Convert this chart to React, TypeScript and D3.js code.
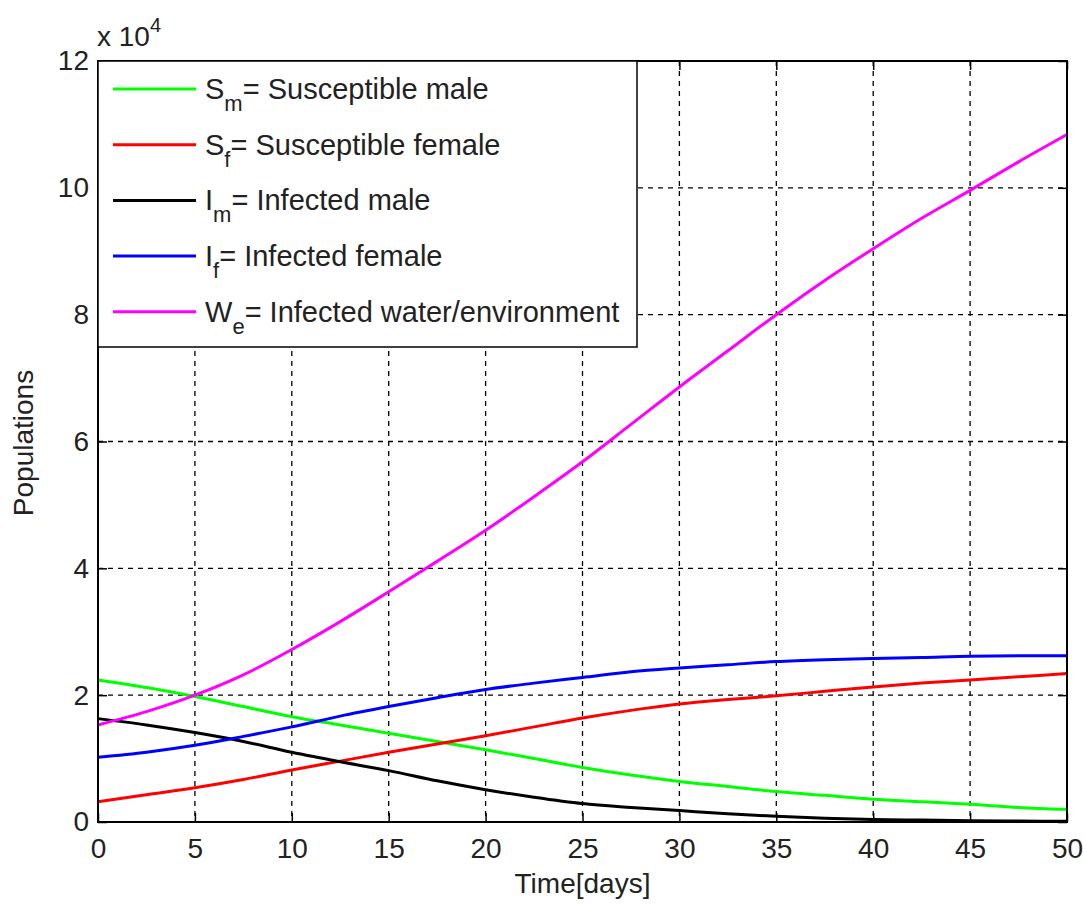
import React, { useEffect, useRef } from "react";
import * as d3 from "d3";

// days sampled every 2.5
const days = [0, 2.5, 5, 7.5, 10, 12.5, 15, 17.5, 20, 22.5, 25, 27.5, 30, 32.5, 35, 37.5, 40, 42.5, 45, 47.5, 50];

const susMale = [22400, 21200, 19800, 18200, 16600, 15300, 14000, 12700, 11400, 10000, 8600, 7400, 6400, 5600, 4800, 4200, 3600, 3200, 2800, 2300, 2000];
const susFemale = [3200, 4300, 5400, 6700, 8200, 9600, 11000, 12300, 13600, 15000, 16400, 17600, 18600, 19300, 19900, 20600, 21300, 21900, 22400, 22900, 23400];
const infMale = [16300, 15300, 14100, 12700, 11000, 9500, 8100, 6500, 5100, 3900, 2900, 2300, 1800, 1300, 900, 600, 400, 300, 200, 150, 100];
const infFemale = [10200, 11000, 12100, 13500, 15000, 16700, 18200, 19600, 20900, 21900, 22800, 23700, 24300, 24800, 25300, 25600, 25800, 25950, 26150, 26200, 26200];
const water = [15300, 17400, 20000, 23200, 27200, 31600, 36300, 41100, 46000, 51300, 56800, 62700, 68600, 74300, 80000, 85400, 90400, 95200, 99600, 104100, 108400];

const xTicks = [0, 5, 10, 15, 20, 25, 30, 35, 40, 45, 50];
const yTicks = [0, 2, 4, 6, 8, 10, 12];

const series = [
  { base: "S", sub: "m", label: "= Susceptible male", color: "#00ff00", values: susMale },
  { base: "S", sub: "f", label: "= Susceptible female", color: "#ff0000", values: susFemale },
  { base: "I", sub: "m", label: "= Infected male", color: "#000000", values: infMale },
  { base: "I", sub: "f", label: "= Infected female", color: "#0000ff", values: infFemale },
  { base: "W", sub: "e", label: "= Infected water/environment", color: "#ff00ff", values: water },
];

const App = () => {
  const ref = useRef<SVGSVGElement>(null);

  useEffect(() => {
    const width = 1083;
    const height = 905;
    const margin = { top: 61, right: 16, bottom: 83, left: 98 };
    const w = width - margin.left - margin.right;
    const h = height - margin.top - margin.bottom;
    const font = "'Liberation Sans', Arial, sans-serif";

    const svg = d3.select(ref.current).attr("width", width).attr("height", height);
    svg.selectAll("*").remove();
    svg.append("rect").attr("width", width).attr("height", height).attr("fill", "#fff");

    const x = d3.scaleLinear().domain([0, 50]).range([0, w]);
    const y = d3.scaleLinear().domain([0, 12]).range([h, 0]);

    const g = svg.append("g").attr("transform", `translate(${margin.left},${margin.top})`);

    // grid
    g.append("g")
      .selectAll("line")
      .data(xTicks.slice(1, -1))
      .join("line")
      .attr("x1", (d) => x(d))
      .attr("x2", (d) => x(d))
      .attr("y1", 0)
      .attr("y2", h)
      .attr("stroke", "#000")
      .attr("stroke-width", 1.3)
      .attr("stroke-dasharray", "5,5");
    g.append("g")
      .selectAll("line")
      .data(yTicks.slice(1, -1))
      .join("line")
      .attr("x1", 0)
      .attr("x2", w)
      .attr("y1", (d) => y(d))
      .attr("y2", (d) => y(d))
      .attr("stroke", "#000")
      .attr("stroke-width", 1.3)
      .attr("stroke-dasharray", "5,5");

    // lines
    const line = d3
      .line<number>()
      .x((_, i) => x(days[i]))
      .y((d) => y(d / 10000))
      .curve(d3.curveMonotoneX);

    g.append("g")
      .selectAll("path")
      .data(series)
      .join("path")
      .attr("d", (d) => line(d.values))
      .attr("fill", "none")
      .attr("stroke", (d) => d.color)
      .attr("stroke-width", 3);

    // axes with inward ticks
    const tick = 9;
    g.append("g")
      .attr("transform", `translate(0,${h})`)
      .call(d3.axisBottom(x).tickValues(xTicks).tickSize(-tick).tickPadding(16).tickFormat(d3.format("d")))
      .call((a) => a.select(".domain").remove());
    g.append("g")
      .call(d3.axisTop(x).tickValues(xTicks).tickSize(-tick).tickFormat(() => ""))
      .call((a) => a.select(".domain").remove());
    g.append("g")
      .call(d3.axisLeft(y).tickValues(yTicks).tickSize(-tick).tickPadding(9).tickFormat(d3.format("d")))
      .call((a) => a.select(".domain").remove());
    g.append("g")
      .attr("transform", `translate(${w},0)`)
      .call(d3.axisRight(y).tickValues(yTicks).tickSize(-tick).tickFormat(() => ""))
      .call((a) => a.select(".domain").remove());

    g.selectAll(".tick line").attr("stroke", "#000").attr("stroke-width", 1.5);
    g.selectAll(".tick text")
      .attr("font-family", font)
      .attr("font-size", 28)
      .attr("fill", "#222");

    g.append("rect")
      .attr("width", w)
      .attr("height", h)
      .attr("fill", "none")
      .attr("stroke", "#000")
      .attr("stroke-width", 2);

    // exponent
    const ex = svg.append("text").attr("x", 97).attr("y", 46).attr("font-family", font).attr("font-size", 28).attr("fill", "#222");
    ex.append("tspan").text("x 10");
    ex.append("tspan").attr("dy", -14).attr("font-size", 20).text("4");

    // axis titles
    svg.append("text")
      .attr("x", margin.left + w / 2)
      .attr("y", 893)
      .attr("text-anchor", "middle")
      .attr("font-family", font)
      .attr("font-size", 28)
      .attr("fill", "#222")
      .text("Time[days]");
    svg.append("text")
      .attr("transform", `translate(33,443) rotate(-90)`)
      .attr("text-anchor", "middle")
      .attr("font-family", font)
      .attr("font-size", 28)
      .attr("fill", "#222")
      .text("Populations");

    // legend
    const leg = g.append("g");
    leg.append("rect")
      .attr("x", 0)
      .attr("y", 0)
      .attr("width", 539)
      .attr("height", 286)
      .attr("fill", "#fff")
      .attr("stroke", "#000")
      .attr("stroke-width", 1.5);
    const rows = leg
      .selectAll("g.row")
      .data(series)
      .join("g")
      .attr("class", "row")
      .attr("transform", (_, i) => `translate(0,${28 + i * 55.7})`);
    rows.append("line")
      .attr("x1", 15)
      .attr("x2", 98)
      .attr("stroke", (d) => d.color)
      .attr("stroke-width", 3);
    const t = rows.append("text")
      .attr("x", 107)
      .attr("y", 10)
      .attr("font-family", font)
      .attr("font-size", 29)
      .attr("fill", "#222");
    t.append("tspan").text((d) => d.base);
    t.append("tspan").attr("dy", 12).attr("font-size", 22).text((d) => d.sub);
    t.append("tspan").attr("dy", -12).text((d) => d.label);
  });

  return (
    <div style={{ position: "fixed", left: 0, top: 0, width: 1083, height: 905, overflow: "hidden", background: "#fff" }}>
      <svg ref={ref} style={{ display: "block" }}></svg>
    </div>
  );
};

export default App;
